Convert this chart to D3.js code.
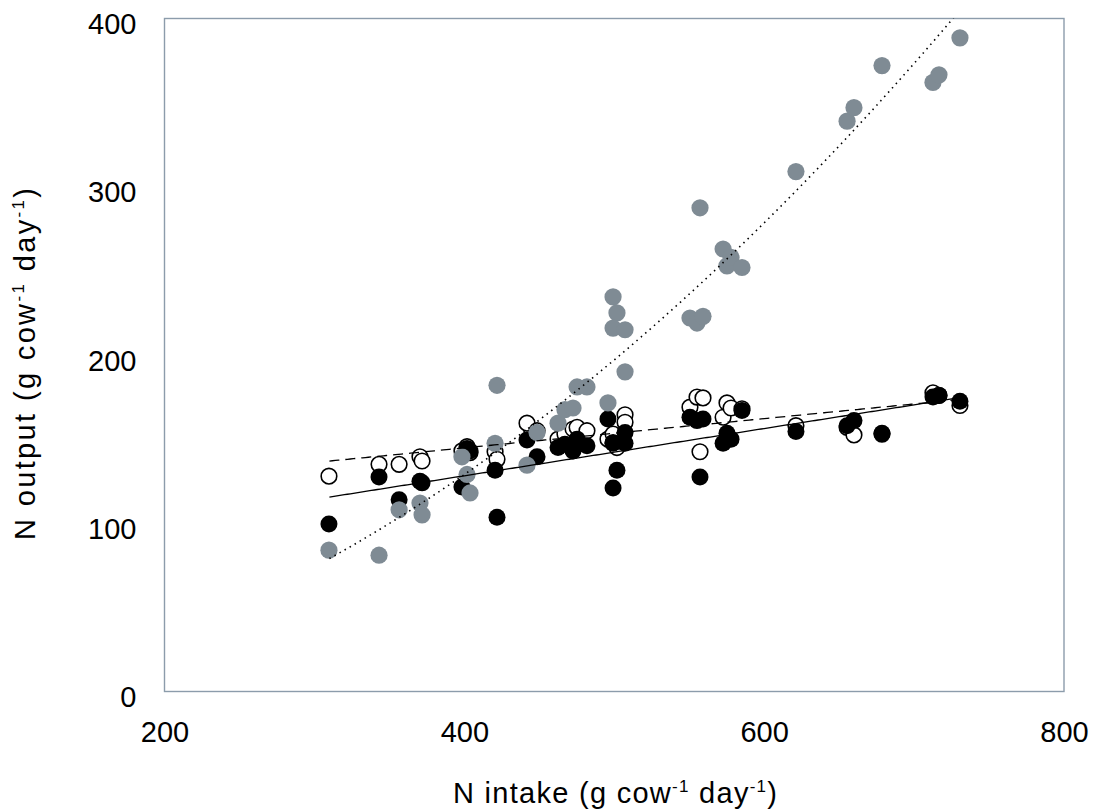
<!DOCTYPE html>
<html>
<head>
<meta charset="utf-8">
<script src="https://cdn.jsdelivr.net/npm/d3@7"></script>
<style>
  html, body { margin: 0; padding: 0; background: #fff; }
  svg { display: block; font-family: "Liberation Sans", Arial, Helvetica, sans-serif; }
</style>
</head>
<body>
<svg id="chart" width="1097" height="811"></svg>
<script>
// N intake per observation (g cow-1 day-1)
const intake = [309.7, 343.1, 356.5, 370.4, 371.8, 398.4, 401.8, 403.8, 420.5, 421.8,
  441.8, 448.5, 462.5, 467.1, 472.5, 475.2, 481.8, 495.8, 499.2, 501.8,
  499.2, 507.2, 507.2, 550.5, 555.2, 559.2, 557.2, 572.6, 575.2, 577.9,
  585.2, 621.2, 655.3, 659.9, 678.6, 712.6, 716.6, 730.6];

// N outputs (g cow-1 day-1), one value per intake observation
const outputOpen = [128, 135, 135, 139.5, 137, 143, 145.5, 142, 142.5, 138,
  159.5, 155, 150, 153, 156, 157, 155, 150, 153, 145,
  148, 164.5, 160, 169, 175, 174.5, 142.5, 163, 171.5, 168.5,
  168, 158, 157, 152.5, 153, 177.5, 176, 170];
const outputBlack = [99.5, 127.5, 114, 125, 124, 121.5, 144.5, 143, 131.5, 103.5,
  149.5, 139.5, 145, 147, 143, 150, 146, 162, 147.5, 131.5,
  121, 154, 147.5, 163, 161, 162, 127.5, 147.5, 153.5, 150,
  167, 154.5, 158, 161, 153.5, 175, 176, 172.5];
const outputGrey = [84, 81, 108, 112, 105, 139.5, 129, 118, 147.5, 182,
  134.5, 154, 159.5, 167.5, 168.5, 181, 181, 171.5, 234.5, 225,
  216, 215, 190, 222, 219, 223, 287.5, 263, 253, 258,
  252, 309, 339, 347, 372, 362, 366.5, 388.5];

// Fitted relationships: polynomial coefficients [c0, c1, c2] and intake range
const fitOpen = [110.0, 0.087, 0];
const fitBlack = [72.0, 0.1405, 0];
const fitGrey = [-10.6, 0.0829, 0.000665];
const fitRange = [310, 732];

// Axis ticks
const xTicks = [200, 400, 600, 800];
const yTicks = [0, 100, 200, 300, 400];

const svg = d3.select("#chart");
const plotL = 164.5, plotR = 1064, plotT = 18.5, plotB = 691.5;

const x = d3.scaleLinear().domain([200, 800]).range([plotL, plotR]);
const y = d3.scaleLinear().domain([0, 400]).range([plotB, plotT]);

const frameColor = "#8c9cab";
const greyColor = "#7f8b94";

// Clip for drawn content
svg.append("defs").append("clipPath").attr("id", "plotClip")
  .append("rect").attr("x", plotL).attr("y", plotT)
  .attr("width", plotR - plotL).attr("height", plotB - plotT);

// Axes (labels only; no tick marks)
const xAxis = svg.append("g").attr("transform", `translate(0,${plotB})`)
  .call(d3.axisBottom(x).tickValues(xTicks).tickSize(0).tickFormat(d3.format("d")));
xAxis.select(".domain").remove();
xAxis.selectAll("text").attr("y", 50.5).attr("dy", 0)
  .attr("font-size", 29).attr("fill", "#000").attr("font-family", "Liberation Sans, Arial, sans-serif");

const yAxis = svg.append("g").attr("transform", `translate(${plotL},0)`)
  .call(d3.axisLeft(y).tickValues(yTicks).tickSize(0).tickFormat(d3.format("d")));
yAxis.select(".domain").remove();
yAxis.selectAll("text").attr("x", -28).attr("dy", 15)
  .attr("font-size", 29).attr("fill", "#000").attr("font-family", "Liberation Sans, Arial, sans-serif");

// Plot frame
svg.append("rect").attr("x", plotL).attr("y", plotT)
  .attr("width", plotR - plotL).attr("height", plotB - plotT)
  .attr("fill", "none").attr("stroke", frameColor).attr("stroke-width", 1.4);

const pts = intake.map((v, i) => ({x: v, open: outputOpen[i], black: outputBlack[i], grey: outputGrey[i]}));

const marks = svg.append("g").attr("clip-path", "url(#plotClip)");

marks.append("g").selectAll("circle").data(pts).join("circle")
  .attr("cx", d => x(d.x)).attr("cy", d => y(d.open)).attr("r", 7.8)
  .attr("fill", "#fff").attr("stroke", "#000").attr("stroke-width", 1.6);

marks.append("g").selectAll("circle").data(pts).join("circle")
  .attr("cx", d => x(d.x)).attr("cy", d => y(d.black)).attr("r", 8.5)
  .attr("fill", "#000");

marks.append("g").selectAll("circle").data(pts).join("circle")
  .attr("cx", d => x(d.x)).attr("cy", d => y(d.grey)).attr("r", 8.6)
  .attr("fill", greyColor);

// Fitted lines
const poly = c => v => c[0] + c[1] * v + c[2] * v * v;
const xs = d3.range(fitRange[0], fitRange[1] + 0.001, 2);
const lineGen = f => d3.line().x(v => x(v)).y(v => y(f(v)))(xs);

marks.append("path").attr("d", lineGen(poly(fitOpen)))
  .attr("fill", "none").attr("stroke", "#000").attr("stroke-width", 1.3)
  .attr("stroke-dasharray", "10,6");
marks.append("path").attr("d", lineGen(poly(fitBlack)))
  .attr("fill", "none").attr("stroke", "#000").attr("stroke-width", 1.3);
marks.append("path").attr("d", lineGen(poly(fitGrey)))
  .attr("fill", "none").attr("stroke", "#000").attr("stroke-width", 1.6)
  .attr("stroke-dasharray", "1.5,4.3");

// Axis titles with superscript units
function unitTitle(sel, lead) {
  sel.append("tspan").text(lead + " (g cow");
  sel.append("tspan").attr("dy", -11).attr("font-size", 17).text("-1");
  sel.append("tspan").attr("dy", 11).text(" day");
  sel.append("tspan").attr("dy", -11).attr("font-size", 17).text("-1");
  sel.append("tspan").attr("dy", 11).text(")");
}

const xTitle = svg.append("text")
  .attr("x", 615).attr("y", 803).attr("text-anchor", "middle")
  .attr("font-size", 29).attr("fill", "#000")
  .attr("textLength", 324).attr("lengthAdjust", "spacing");
unitTitle(xTitle, "N intake");

const yTitle = svg.append("text")
  .attr("transform", "translate(35,364) rotate(-90)").attr("text-anchor", "middle")
  .attr("font-size", 29).attr("fill", "#000")
  .attr("textLength", 352).attr("lengthAdjust", "spacing");
unitTitle(yTitle, "N output");
</script>
</body>
</html>
